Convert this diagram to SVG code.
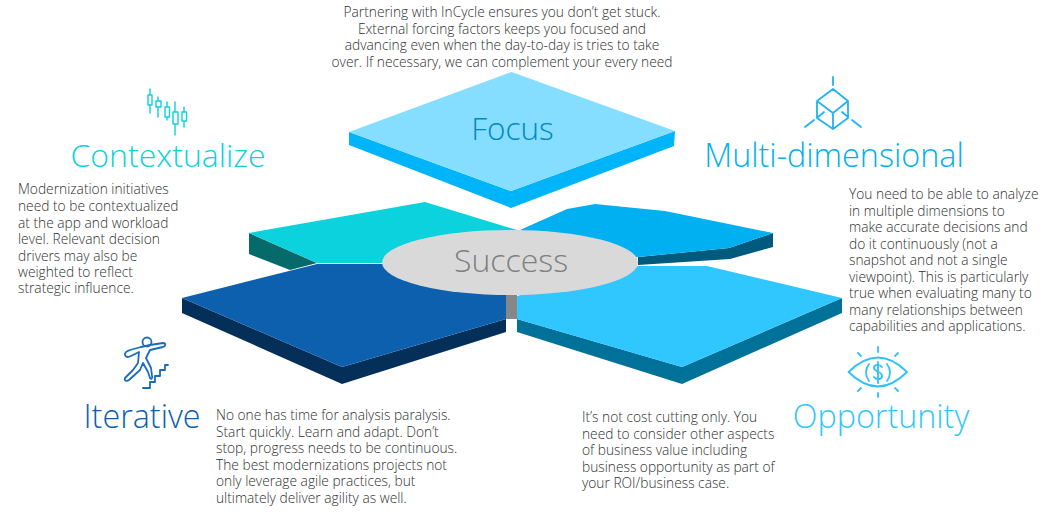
<svg xmlns="http://www.w3.org/2000/svg" width="1050" height="515" viewBox="0 0 1050 515">
<style>
text{font-family:"Open Sans","Noto Sans","Liberation Sans",sans-serif;font-weight:300}
.b{font-size:13.750px;fill:#303030}
.h{font-size:32.300px}
.ic{fill:none;stroke-width:1.800;stroke-linecap:round;stroke-linejoin:round}
.thin{stroke-width:1.400}
</style>
<rect width="1050" height="515" fill="#fff"/>
<g id="focus">
<polygon points="349,132 349,145 511,208 674,146 675,131 511,191" fill="#00b4fa"/>
<polygon points="349,132 511.500,72 675,131 511,191" fill="#85ddff"/>
<text x="512.500" y="140" text-anchor="middle" font-size="31.500" fill="#0088bf">Focus</text>
</g>
<g id="contextualize">
<polygon points="249,233 317,263 290,270 249,254" fill="#066a6b"/>
<polygon points="249,233 425,202 520,231 520,263 317,263" fill="#0bd2dc"/>
<text x="168" y="167" text-anchor="middle" font-size="32" fill="#0bd2dc">Contextualize</text>
<g class="ic thin" stroke="#0bd2dc">
<path d="M150,89V113M158,97V117M167,102V120M175,102V135M184,107V127"/>
<rect x="148" y="95" width="4" height="10" fill="#fff"/>
<rect x="156" y="101" width="5" height="6" fill="#fff"/>
<rect x="165" y="107" width="4.500" height="10" fill="#fff"/>
<rect x="173" y="112" width="5" height="12" fill="#fff"/>
<rect x="182" y="112" width="4.500" height="9" fill="#fff"/>
</g>
<g class="b">
<text x="18" y="194">Modernization initiatives</text>
<text x="18" y="211">need to be contextualized</text>
<text x="18" y="227.500">at the app and workload</text>
<text x="18" y="244">level. Relevant decision</text>
<text x="18" y="260.500">drivers may also be</text>
<text x="18" y="277">weighted to reflect</text>
<text x="18" y="293">strategic influence.</text>
</g>
</g>
<g id="multi-dimensional">
<polygon points="638,257 729,248 773,233 773,247 730,259 638,265" fill="#005a7d"/>
<polygon points="520,230 567,209 595,204 665,211 773,233 729,248 638,257 600,262" fill="#00b0f0"/>
<text x="834" y="167" text-anchor="middle" class="h" fill="#00b0f0">Multi-dimensional</text>
<g class="ic" stroke="#1fb4f2">
<path d="M833,77V85M833,89L848,101V118L833,129L817,118V101ZM817,101L833,113L848,101M833,113V129M805,127L814,120M861,127L852,120M818,117L824,112M848,117L842,112"/>
</g>
<g class="b">
<text x="849" y="199">You need to be able to analyze</text>
<text x="849" y="216">in multiple dimensions to</text>
<text x="849" y="232">make accurate decisions and</text>
<text x="849" y="249">do it continuously (not a</text>
<text x="849" y="265">snapshot and not a single</text>
<text x="849" y="282">viewpoint). This is particularly</text>
<text x="849" y="298">true when evaluating many to</text>
<text x="849" y="315">many relationships between</text>
<text x="849" y="331">capabilities and applications.</text>
</g>
</g>
<g id="iterative">
<polygon points="182,298 182,313 342,384 506,332 506,319 342,367" fill="#042f58"/>
<polygon points="182,298 317,264 506,264 506,319 342,367" fill="#0c60ae"/>
<text x="142" y="428" text-anchor="middle" class="h" fill="#0c60ae">Iterative</text>
<g class="ic" stroke="#1a6cb8">
<circle cx="147" cy="342" r="4.500"/>
<path d="M141,347L130,350C127,351 124,353 125,355C126,358 129,357 131,356L139,352L138,363L133,370L125,378C124,380 126,382 129,380L140,370L143,363L148,372L150,378C151,380 153,378 152,376L151,368L146,358L150,350L163,347C166,346 166,343 163,343L150,345L141,347"/>
<path d="M143,388H150V382H155V376H160V370H165V365H168"/>
</g>
<g class="b">
<text x="216" y="420">No one has time for analysis paralysis.</text>
<text x="216" y="437">Start quickly. Learn and adapt. Don’t</text>
<text x="216" y="453">stop, progress needs to be continuous.</text>
<text x="216" y="470">The best modernizations projects not</text>
<text x="216" y="486">only leverage agile practices, but</text>
<text x="216" y="503">ultimately deliver agility as well.</text>
</g>
</g>
<g id="opportunity">
<polygon points="517,319 517,332 682,384 842,313 842,298 682,367" fill="#007199"/>
<polygon points="517,296 638,266 707,266 842,298 682,367 517,319" fill="#30c6ff"/>
<text x="881" y="428" text-anchor="middle" class="h" fill="#30c6ff">Opportunity</text>
<g class="ic" stroke="#30c0fb">
<path d="M848.500,372C868,353 888,353 907,372C888,391 868,391 848.500,372Z"/>
<path d="M869,364C865,369 865,376 869,381M887,364C891,369 891,376 887,381"/>
<path d="M882,367C880,364 874,364 874,368C874,372 882,371 882,376C882,380 876,380 874,377M878,362V383"/>
<path d="M878,347V352M858,353L861,356M898,353L895,356M858,391L861,388M898,391L895,388M878,393V397"/>
</g>
<g class="b">
<text x="582" y="422">It’s not cost cutting only. You</text>
<text x="582" y="439">need to consider other aspects</text>
<text x="582" y="455">of business value including</text>
<text x="582" y="472">business opportunity as part of</text>
<text x="582" y="488">your ROI/business case.</text>
</g>
</g>
<g id="success">
<rect x="506" y="293" width="11" height="26" fill="#878787"/>
<ellipse cx="510" cy="262.500" rx="128" ry="32.500" fill="#d9d9d9"/>
<text x="511" y="272" text-anchor="middle" font-size="32" fill="#7f7f7f">Success</text>
</g>
<g id="intro" class="b" text-anchor="middle">
<text x="502" y="17">Partnering with InCycle ensures you don’t get stuck.</text>
<text x="502" y="34">External forcing factors keeps you focused and</text>
<text x="502" y="50">advancing even when the day-to-day is tries to take</text>
<text x="502" y="67">over. If necessary, we can complement your every need</text>
</g>
<g id="connectors"></g>
</svg>
